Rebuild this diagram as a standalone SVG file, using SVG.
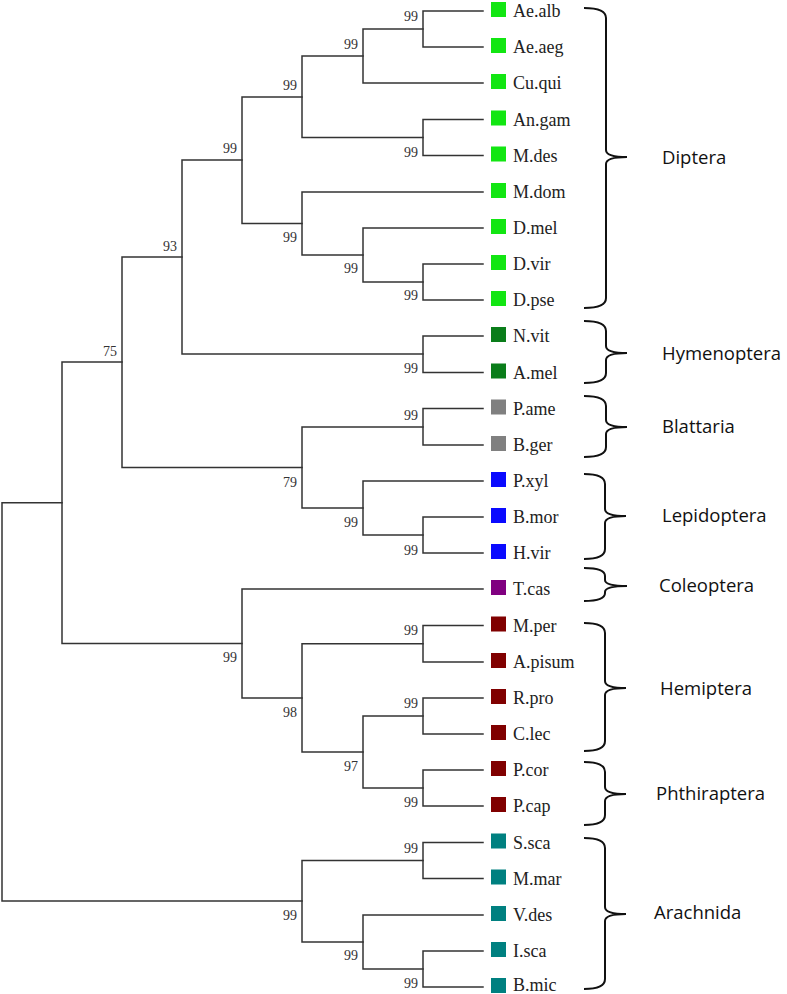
<svg xmlns="http://www.w3.org/2000/svg" width="787" height="994" viewBox="0 0 787 994">
<style>
.br{fill:none;stroke:#333;stroke-width:1.5;stroke-linecap:square}
.bs{font-family:"Liberation Serif","Times New Roman",serif;font-size:14px;fill:#333;text-anchor:end}
.lf{font-family:"Liberation Serif","Times New Roman",serif;font-size:18px;fill:#222}
.cl{font-family:"Open Sans","Liberation Sans",sans-serif;font-size:18.5px;fill:#111}
.brace{fill:none;stroke:#111;stroke-width:2}
.dip{fill:#12e612}.hym{fill:#0a7d1a}.bla{fill:#808080}.lep{fill:#0a0aff}.col{fill:#800080}.hem{fill:#800000}.ara{fill:#008080}
</style>
<rect width="787" height="994" fill="#fff"/>
<g id="connectors">
<path class="br" d="M483,11 H423 V47 H483"/>
<path class="br" d="M423,29 H363 V83 H483"/>
<path class="br" d="M483,119.5 H423 V155.5 H483"/>
<path class="br" d="M363,56 H302 V137.5 H423"/>
<path class="br" d="M483,264 H423 V300 H483"/>
<path class="br" d="M483,228 H363 V282 H423"/>
<path class="br" d="M483,192 H302 V255 H363"/>
<path class="br" d="M302,97 H242 V223.5 H302"/>
<path class="br" d="M483,336 H423 V372.5 H483"/>
<path class="br" d="M242,160 H182 V354 H423"/>
<path class="br" d="M483,408.5 H423 V445 H483"/>
<path class="br" d="M483,517 H423 V553 H483"/>
<path class="br" d="M483,481 H363 V535 H423"/>
<path class="br" d="M423,427 H302 V508 H363"/>
<path class="br" d="M182,257 H122 V467.5 H302"/>
<path class="br" d="M483,625.5 H423 V662 H483"/>
<path class="br" d="M483,698 H423 V734 H483"/>
<path class="br" d="M483,770 H423 V806 H483"/>
<path class="br" d="M423,716 H363 V788 H423"/>
<path class="br" d="M423,643.75 H302 V752 H363"/>
<path class="br" d="M483,589 H242 V698 H302"/>
<path class="br" d="M122,362 H62 V643.5 H242"/>
<path class="br" d="M483,842.5 H423 V878.5 H483"/>
<path class="br" d="M483,951 H423 V987 H483"/>
<path class="br" d="M483,915 H363 V969 H423"/>
<path class="br" d="M423,860.5 H302 V942 H363"/>
<path class="br" d="M62,502.75 H2 V901 H302"/>
</g>
<g id="bootstrap">
<text class="bs" x="418" y="21">99</text>
<text class="bs" x="358" y="49">99</text>
<text class="bs" x="418" y="157">99</text>
<text class="bs" x="297" y="90">99</text>
<text class="bs" x="237" y="153">99</text>
<text class="bs" x="297" y="242">99</text>
<text class="bs" x="358" y="273">99</text>
<text class="bs" x="418" y="300">99</text>
<text class="bs" x="177" y="251">93</text>
<text class="bs" x="418" y="373">99</text>
<text class="bs" x="117" y="356">75</text>
<text class="bs" x="297" y="487">79</text>
<text class="bs" x="418" y="420">99</text>
<text class="bs" x="358" y="527">99</text>
<text class="bs" x="418" y="555">99</text>
<text class="bs" x="237" y="662">99</text>
<text class="bs" x="297" y="717">98</text>
<text class="bs" x="418" y="635">99</text>
<text class="bs" x="358" y="771">97</text>
<text class="bs" x="418" y="708">99</text>
<text class="bs" x="418" y="807">99</text>
<text class="bs" x="297" y="920">99</text>
<text class="bs" x="418" y="853">99</text>
<text class="bs" x="358" y="960">99</text>
<text class="bs" x="418" y="988">99</text>
</g>
<g id="leaf-Ae.alb"><rect class="dip" x="491" y="2" width="15" height="15"/><text class="lf" x="513" y="17">Ae.alb</text></g>
<g id="leaf-Ae.aeg"><rect class="dip" x="491" y="38" width="15" height="15"/><text class="lf" x="513" y="53">Ae.aeg</text></g>
<g id="leaf-Cu.qui"><rect class="dip" x="491" y="74" width="15" height="15"/><text class="lf" x="513" y="89">Cu.qui</text></g>
<g id="leaf-An.gam"><rect class="dip" x="491" y="110.5" width="15" height="15"/><text class="lf" x="513" y="125.5">An.gam</text></g>
<g id="leaf-M.des"><rect class="dip" x="491" y="146.5" width="15" height="15"/><text class="lf" x="513" y="161.5">M.des</text></g>
<g id="leaf-M.dom"><rect class="dip" x="491" y="183" width="15" height="15"/><text class="lf" x="513" y="198">M.dom</text></g>
<g id="leaf-D.mel"><rect class="dip" x="491" y="219" width="15" height="15"/><text class="lf" x="513" y="234">D.mel</text></g>
<g id="leaf-D.vir"><rect class="dip" x="491" y="255" width="15" height="15"/><text class="lf" x="513" y="270">D.vir</text></g>
<g id="leaf-D.pse"><rect class="dip" x="491" y="291" width="15" height="15"/><text class="lf" x="513" y="306">D.pse</text></g>
<g id="leaf-N.vit"><rect class="hym" x="491" y="327" width="15" height="15"/><text class="lf" x="513" y="342">N.vit</text></g>
<g id="leaf-A.mel"><rect class="hym" x="491" y="363.5" width="15" height="15"/><text class="lf" x="513" y="378.5">A.mel</text></g>
<g id="leaf-P.ame"><rect class="bla" x="491" y="399.5" width="15" height="15"/><text class="lf" x="513" y="414.5">P.ame</text></g>
<g id="leaf-B.ger"><rect class="bla" x="491" y="436" width="15" height="15"/><text class="lf" x="513" y="451">B.ger</text></g>
<g id="leaf-P.xyl"><rect class="lep" x="491" y="472" width="15" height="15"/><text class="lf" x="513" y="487">P.xyl</text></g>
<g id="leaf-B.mor"><rect class="lep" x="491" y="508" width="15" height="15"/><text class="lf" x="513" y="523">B.mor</text></g>
<g id="leaf-H.vir"><rect class="lep" x="491" y="544" width="15" height="15"/><text class="lf" x="513" y="559">H.vir</text></g>
<g id="leaf-T.cas"><rect class="col" x="491" y="580" width="15" height="15"/><text class="lf" x="513" y="595">T.cas</text></g>
<g id="leaf-M.per"><rect class="hem" x="491" y="616.5" width="15" height="15"/><text class="lf" x="513" y="631.5">M.per</text></g>
<g id="leaf-A.pisum"><rect class="hem" x="491" y="653" width="15" height="15"/><text class="lf" x="513" y="668">A.pisum</text></g>
<g id="leaf-R.pro"><rect class="hem" x="491" y="689" width="15" height="15"/><text class="lf" x="513" y="704">R.pro</text></g>
<g id="leaf-C.lec"><rect class="hem" x="491" y="725" width="15" height="15"/><text class="lf" x="513" y="740">C.lec</text></g>
<g id="leaf-P.cor"><rect class="hem" x="491" y="761" width="15" height="15"/><text class="lf" x="513" y="776">P.cor</text></g>
<g id="leaf-P.cap"><rect class="hem" x="491" y="797" width="15" height="15"/><text class="lf" x="513" y="812">P.cap</text></g>
<g id="leaf-S.sca"><rect class="ara" x="491" y="833.5" width="15" height="15"/><text class="lf" x="513" y="848.5">S.sca</text></g>
<g id="leaf-M.mar"><rect class="ara" x="491" y="869.5" width="15" height="15"/><text class="lf" x="513" y="884.5">M.mar</text></g>
<g id="leaf-V.des"><rect class="ara" x="491" y="906" width="15" height="15"/><text class="lf" x="513" y="921">V.des</text></g>
<g id="leaf-I.sca"><rect class="ara" x="491" y="942" width="15" height="15"/><text class="lf" x="513" y="957">I.sca</text></g>
<g id="leaf-B.mic"><rect class="ara" x="491" y="978" width="15" height="15"/><text class="lf" x="513" y="991">B.mic</text></g>
<g id="clade-Diptera"><path class="brace" d="M584,8 Q606,8 606,18 V150 Q606,157 627,157 Q606,157 606,164 V298 Q606,308 584,308"/><text class="cl" x="662" y="164">Diptera</text></g>
<g id="clade-Hymenoptera"><path class="brace" d="M584,321 Q606,321 606,331 V346 Q606,353 627,353 Q606,353 606,360 V373 Q606,383 584,383"/><text class="cl" x="662" y="360">Hymenoptera</text></g>
<g id="clade-Blattaria"><path class="brace" d="M584,396 Q606,396 606,406 V420 Q606,427 627,427 Q606,427 606,434 V447 Q606,457 584,457"/><text class="cl" x="662" y="433">Blattaria</text></g>
<g id="clade-Lepidoptera"><path class="brace" d="M584,474 Q605,474 605,484 V509 Q605,516 626,516 Q605,516 605,523 V549 Q605,559 584,559"/><text class="cl" x="662" y="522">Lepidoptera</text></g>
<g id="clade-Coleoptera"><path class="brace" d="M584,568 Q605,568 605,576 V580 Q605,586 627,586 Q605,586 605,592 V593 Q605,601 584,601"/><text class="cl" x="659" y="592">Coleoptera</text></g>
<g id="clade-Hemiptera"><path class="brace" d="M584,623 Q605,623 605,633 V681 Q605,688 626,688 Q605,688 605,695 V741 Q605,751 584,751"/><text class="cl" x="660" y="695">Hemiptera</text></g>
<g id="clade-Phthiraptera"><path class="brace" d="M584,762 Q605,762 605,772 V787 Q605,794 626,794 Q605,794 605,801 V815 Q605,825 584,825"/><text class="cl" x="656" y="800">Phthiraptera</text></g>
<g id="clade-Arachnida"><path class="brace" d="M584,838 Q605,838 605,848 V907 Q605,914 626,914 Q605,914 605,921 V979 Q605,989 584,989"/><text class="cl" x="654" y="919">Arachnida</text></g>
</svg>
